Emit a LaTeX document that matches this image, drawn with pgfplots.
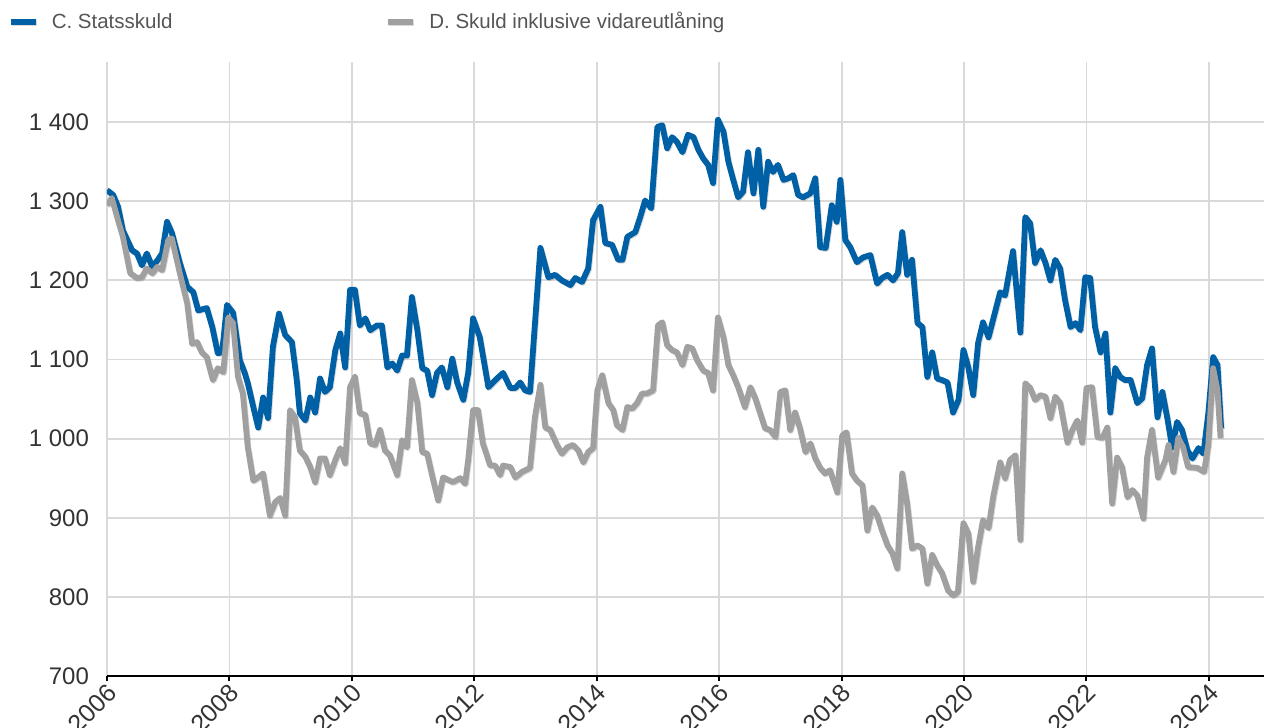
\documentclass[border=0pt]{standalone}
\usepackage{fontspec}
\setmainfont{Liberation Sans}
\usepackage{pgfplots}
\pgfplotsset{compat=1.18}
\definecolor{cblue}{RGB}{0,96,165}
\definecolor{cgray}{RGB}{160,160,160}
\definecolor{gridc}{RGB}{217,217,217}
\definecolor{tickc}{RGB}{51,51,51}
\definecolor{legc}{RGB}{85,85,85}

\begin{document}
\begin{tikzpicture}
\begin{axis}[
  name=ax,
  scale only axis,
  width=578.5pt, height=307pt,
  xmin=2006, xmax=2024.9,
  ymin=700, ymax=1476,
  xtick={2006,2008,...,2024},
  ytick={700,800,...,1400},
  axis x line*=bottom,
  axis y line*=left,
  y axis line style={draw=none},
  x axis line style={black, line width=1.4pt},
  grid=major,
  major grid style={gridc, line width=0.9pt},
  tick align=outside,
  major tick length=2.5pt,
  xtick style={black, line width=1pt},
  ytick style={draw=none},
  /pgf/number format/assume math mode=true,
  /pgf/number format/1000 sep={\ },
  x tick label style={/pgf/number format/1000 sep=, rotate=45, anchor=east,
    font=\fontsize{12.5}{13}\selectfont, text=tickc, xshift=2.5pt, yshift=-4.5pt},
  y tick label style={font=\fontsize{12}{13}\selectfont, text=tickc, xshift=-3pt},
  legend columns=2,
  legend cell align=left,
  legend style={draw=none, fill=none, at={(-0.0856,1.065)}, anchor=west,
    inner sep=0pt, outer sep=0pt, font=\fontsize{10.25}{12}\selectfont, text=legc,
    nodes={inner sep=0pt}, column sep=6.5pt,
    /tikz/every even column/.append style={column sep=106.5pt}},
  legend image code/.code={\draw[#1] (0pt,0pt) -- (12.5pt,0pt);},
  every axis plot/.append style={line width=2.9pt, line join=round,
    preaction={draw=black, opacity=0.15, transform canvas={xshift=0.4pt, yshift=-0.5pt}}},
]
% C. Statsskuld
\addplot[cblue] coordinates {
(2006.00,1314) (2006.10,1308) (2006.18,1293) (2006.26,1263) (2006.41,1238) (2006.49,1234)
(2006.57,1219) (2006.65,1234) (2006.74,1217) (2006.83,1226) (2006.90,1234) (2006.98,1274)
(2007.06,1260) (2007.19,1222) (2007.31,1192) (2007.41,1185) (2007.49,1162) (2007.63,1165)
(2007.72,1141) (2007.81,1108) (2007.88,1109) (2007.96,1169) (2008.06,1159) (2008.17,1099)
(2008.25,1083) (2008.30,1070) (2008.39,1040) (2008.47,1014) (2008.55,1052) (2008.63,1026)
(2008.71,1116) (2008.81,1158) (2008.91,1131) (2009.02,1122) (2009.10,1074) (2009.15,1032)
(2009.24,1023) (2009.32,1052) (2009.40,1033) (2009.48,1076) (2009.56,1059) (2009.64,1065)
(2009.73,1112) (2009.81,1133) (2009.89,1090) (2009.97,1188) (2010.05,1188) (2010.13,1143)
(2010.22,1152) (2010.30,1137) (2010.41,1143) (2010.49,1143) (2010.58,1090) (2010.66,1095)
(2010.74,1086) (2010.82,1105) (2010.90,1105) (2010.98,1179) (2011.07,1137) (2011.15,1089)
(2011.23,1086) (2011.31,1055) (2011.39,1083) (2011.47,1090) (2011.56,1065) (2011.64,1101)
(2011.72,1071) (2011.82,1049) (2011.90,1083) (2011.98,1152) (2012.09,1128) (2012.23,1065)
(2012.37,1076) (2012.47,1083) (2012.59,1064) (2012.67,1064) (2012.75,1071) (2012.83,1061)
(2012.91,1059) (2013.08,1241) (2013.21,1204) (2013.32,1207) (2013.43,1200) (2013.57,1194)
(2013.65,1203) (2013.76,1198) (2013.86,1215) (2013.94,1276) (2014.06,1293) (2014.14,1247)
(2014.25,1245) (2014.35,1226) (2014.42,1226) (2014.50,1255) (2014.63,1261) (2014.71,1280)
(2014.79,1301) (2014.89,1291) (2014.99,1394) (2015.07,1396) (2015.15,1367) (2015.23,1381)
(2015.31,1375) (2015.40,1362) (2015.49,1384) (2015.58,1381) (2015.66,1365) (2015.74,1354)
(2015.82,1346) (2015.90,1323) (2015.98,1403) (2016.07,1388) (2016.15,1350) (2016.23,1327)
(2016.31,1305) (2016.39,1312) (2016.47,1362) (2016.56,1310) (2016.64,1365) (2016.72,1293)
(2016.80,1350) (2016.88,1337) (2016.96,1346) (2017.05,1327) (2017.13,1329) (2017.21,1333)
(2017.29,1308) (2017.37,1305) (2017.49,1310) (2017.57,1329) (2017.65,1242) (2017.74,1241)
(2017.84,1295) (2017.92,1274) (2017.98,1327) (2018.06,1251) (2018.14,1242) (2018.25,1223)
(2018.35,1229) (2018.47,1232) (2018.58,1196) (2018.66,1203) (2018.75,1207) (2018.84,1200)
(2018.92,1209) (2018.99,1261) (2019.07,1207) (2019.15,1226) (2019.24,1146) (2019.32,1141)
(2019.40,1078) (2019.48,1109) (2019.56,1076) (2019.64,1074) (2019.73,1071) (2019.82,1033)
(2019.91,1049) (2019.99,1112) (2020.07,1090) (2020.15,1055) (2020.23,1121) (2020.31,1147)
(2020.40,1128) (2020.48,1152) (2020.59,1185) (2020.67,1181) (2020.80,1237) (2020.92,1134)
(2021.00,1280) (2021.08,1272) (2021.16,1222) (2021.25,1238) (2021.33,1222) (2021.41,1200)
(2021.49,1226) (2021.57,1215) (2021.65,1175) (2021.74,1141) (2021.82,1146) (2021.90,1137)
(2021.98,1204) (2022.06,1203) (2022.14,1141) (2022.23,1109) (2022.31,1133) (2022.39,1033)
(2022.47,1089) (2022.55,1078) (2022.63,1074) (2022.72,1074) (2022.83,1045) (2022.91,1051)
(2022.99,1093) (2023.07,1114) (2023.16,1027) (2023.24,1059) (2023.32,1026) (2023.40,989)
(2023.48,1021) (2023.56,1011) (2023.65,985) (2023.73,975) (2023.83,988) (2023.91,981)
(2023.99,1032) (2024.07,1103) (2024.14,1093) (2024.20,1013)
};
\addlegendentry{C. Statsskuld}
% D. Skuld inklusive vidareutlaning
\addplot[cgray] coordinates {
(2006.00,1295) (2006.08,1304) (2006.18,1276) (2006.26,1255) (2006.38,1209) (2006.49,1203)
(2006.57,1204) (2006.65,1215) (2006.74,1209) (2006.82,1217) (2006.90,1213) (2007.00,1251)
(2007.06,1253) (2007.19,1209) (2007.31,1171) (2007.39,1120) (2007.47,1122) (2007.55,1109)
(2007.63,1103) (2007.73,1074) (2007.81,1089) (2007.90,1084) (2007.98,1153) (2008.06,1146)
(2008.14,1078) (2008.22,1057) (2008.30,989) (2008.39,947) (2008.47,951) (2008.55,956)
(2008.66,903) (2008.75,920) (2008.83,925) (2008.91,903) (2008.99,1036) (2009.07,1027)
(2009.15,985) (2009.24,977) (2009.32,964) (2009.40,945) (2009.48,975) (2009.56,975)
(2009.64,954) (2009.73,973) (2009.81,988) (2009.89,969) (2009.97,1065) (2010.05,1078)
(2010.13,1032) (2010.22,1030) (2010.30,994) (2010.38,992) (2010.46,1011) (2010.54,985)
(2010.62,979) (2010.74,954) (2010.82,998) (2010.90,989) (2010.98,1074) (2011.07,1045)
(2011.15,983) (2011.23,981) (2011.33,947) (2011.41,922) (2011.49,951) (2011.65,945)
(2011.77,950) (2011.85,943) (2011.90,973) (2011.98,1036) (2012.06,1036) (2012.14,994)
(2012.26,966) (2012.34,966) (2012.42,954) (2012.47,966) (2012.59,964) (2012.67,951)
(2012.78,958) (2012.91,963) (2012.99,1027) (2013.08,1068) (2013.16,1014) (2013.24,1011)
(2013.35,992) (2013.43,981) (2013.52,989) (2013.61,992) (2013.70,985) (2013.78,970)
(2013.86,983) (2013.94,988) (2014.01,1061) (2014.09,1080) (2014.19,1045) (2014.27,1036)
(2014.33,1017) (2014.42,1011) (2014.50,1040) (2014.58,1038) (2014.66,1045) (2014.74,1057)
(2014.82,1057) (2014.92,1061) (2015.00,1143) (2015.07,1147) (2015.15,1118) (2015.23,1112)
(2015.31,1109) (2015.40,1093) (2015.48,1116) (2015.56,1114) (2015.64,1099) (2015.74,1086)
(2015.82,1083) (2015.90,1061) (2015.98,1153) (2016.07,1128) (2016.15,1093) (2016.23,1080)
(2016.31,1065) (2016.42,1040) (2016.51,1065) (2016.59,1051) (2016.67,1032) (2016.75,1013)
(2016.83,1011) (2016.92,1002) (2017.00,1059) (2017.08,1061) (2017.16,1011) (2017.24,1033)
(2017.32,1013) (2017.41,983) (2017.49,994) (2017.57,975) (2017.65,963) (2017.73,956)
(2017.81,960) (2017.93,932) (2018.01,1004) (2018.08,1008) (2018.17,956) (2018.25,947)
(2018.34,941) (2018.42,884) (2018.50,913) (2018.58,903) (2018.66,884) (2018.75,865)
(2018.83,855) (2018.91,836) (2018.99,956) (2019.07,918) (2019.15,861) (2019.24,865)
(2019.32,861) (2019.40,817) (2019.48,853) (2019.56,840) (2019.64,830) (2019.74,808)
(2019.82,802) (2019.90,806) (2019.99,893) (2020.07,880) (2020.15,819) (2020.23,863)
(2020.31,897) (2020.40,887) (2020.48,928) (2020.59,970) (2020.67,950) (2020.75,973)
(2020.84,979) (2020.92,872) (2021.00,1070) (2021.08,1064) (2021.16,1049) (2021.25,1055)
(2021.33,1053) (2021.41,1026) (2021.49,1053) (2021.57,1045) (2021.69,995) (2021.77,1011)
(2021.85,1023) (2021.93,995) (2022.00,1064) (2022.09,1065) (2022.18,1002) (2022.26,1001)
(2022.34,1014) (2022.42,918) (2022.50,976) (2022.58,964) (2022.67,926) (2022.75,935)
(2022.83,928) (2022.93,899) (2022.99,976) (2023.07,1011) (2023.17,951) (2023.29,973)
(2023.34,992) (2023.42,958) (2023.50,1001) (2023.58,989) (2023.66,964) (2023.81,963)
(2023.92,958) (2023.99,992) (2024.07,1089) (2024.14,1061) (2024.19,1001)
};
\addlegendentry{D. Skuld inklusive vidareutlåning}
\end{axis}
\pgfresetboundingbox
\path ([xshift=-53.5pt,yshift=-26pt]ax.south west) rectangle ([yshift=31pt]ax.north east);
\end{tikzpicture}
\end{document}
